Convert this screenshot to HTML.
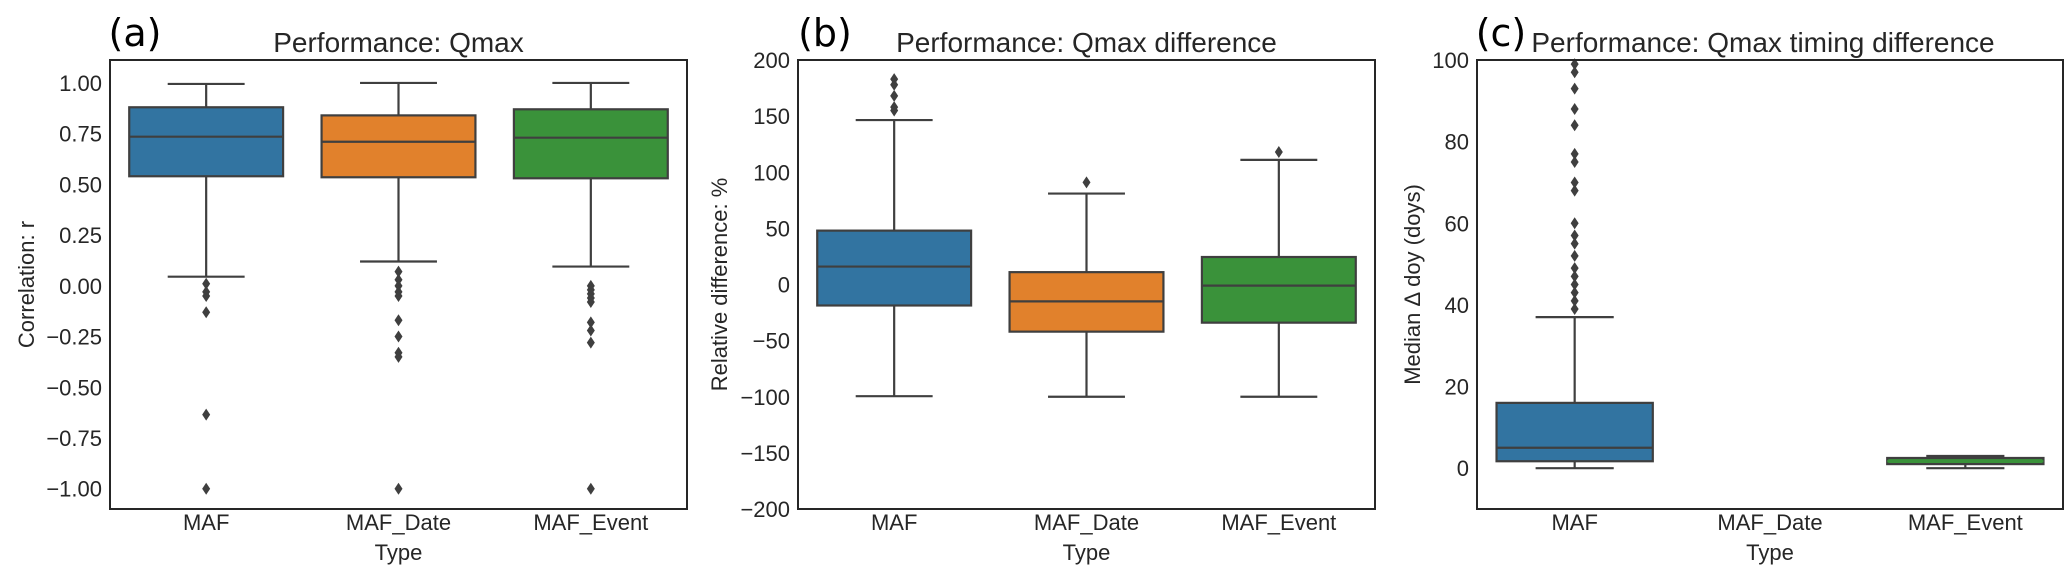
<!DOCTYPE html>
<html><head><meta charset="utf-8"><style>
html,body{margin:0;padding:0;background:#fff;}
svg{display:block;font-family:"Liberation Sans",sans-serif;}
</style></head><body>
<svg id="fig" width="2067" height="576" viewBox="0 0 2067 576" xmlns="http://www.w3.org/2000/svg"></svg>
<script>
const categories = ["MAF","MAF_Date","MAF_Event"];
const colors = ["#3274a1","#e1812c","#3a923a"];
// panel a: correlation
const aWhiskLow = [0.045, 0.12, 0.095];
const aQ1 = [0.54, 0.535, 0.53];
const aMedian = [0.735, 0.71, 0.73];
const aQ3 = [0.88, 0.84, 0.87];
const aWhiskHigh = [0.995, 1.0, 1.0];
const aOutliers = [[0.01,-0.03,-0.05,-0.13,-0.635,-1.0],[0.07,0.03,0.0,-0.03,-0.05,-0.17,-0.25,-0.33,-0.35,-1.0],[0.0,-0.02,-0.04,-0.06,-0.08,-0.18,-0.22,-0.28,-1.0]];
const aTicks = [1.0,0.75,0.5,0.25,0.0,-0.25,-0.5,-0.75,-1.0];
const aTickLabels = ["1.00","0.75","0.50","0.25","0.00","\u22120.25","\u22120.50","\u22120.75","\u22121.00"];
// panel b: relative difference
const bWhiskLow = [-99.5, -100, -100];
const bQ1 = [-18.7, -42, -34];
const bMedian = [16, -15, -1];
const bQ3 = [48, 11, 24.5];
const bWhiskHigh = [146.5, 81, 111];
const bOutliers = [[155,158,168,178,183],[91],[118]];
const bTicks = [200,150,100,50,0,-50,-100,-150,-200];
const bTickLabels = ["200","150","100","50","0","\u221250","\u2212100","\u2212150","\u2212200"];
// panel c: timing difference
const cWhiskLow = [0, null, 0];
const cQ1 = [1.7, null, 1.0];
const cMedian = [5, null, 1.7];
const cQ3 = [16, null, 2.5];
const cWhiskHigh = [37, null, 3];
const cOutliers = [[99,97,93,88,84,77,75,70,68,60,57,55,52,49,47,45,43,41,39],[],[]];
const cTicks = [100,80,60,40,20,0];
const cTickLabels = ["100","80","60","40","20","0"];

const NS="http://www.w3.org/2000/svg";
const svg=document.getElementById('fig');
function mk(tag,attrs,parent,text){const e=document.createElementNS(NS,tag);for(const k in attrs)e.setAttribute(k,attrs[k]);if(text!==undefined)e.textContent=text;(parent||svg).appendChild(e);return e;}
const LC="#3f3f3f";

function panel(opt){
  const g=mk('g',{});
  
  
  const L=opt.left,R=opt.right,T=60,B=509;
  const y=v=>B-(v-opt.ymin)/(opt.ymax-opt.ymin)*(B-T);
  const step=(R-L)/categories.length;
  const x=i=>L+step*(i+0.5);
  const bw=step*0.8;
  for(let i=0;i<categories.length;i++){
    if(opt.q1[i]===null) continue;
    const bg=mk('g',{},g);
    
    
    const cx=x(i);
    mk('line',{x1:cx,x2:cx,y1:y(opt.q3[i]),y2:y(opt.wh[i]),stroke:LC,'stroke-width':2.2},bg);
    mk('line',{x1:cx,x2:cx,y1:y(opt.q1[i]),y2:y(opt.wl[i]),stroke:LC,'stroke-width':2.2},bg);
    mk('line',{x1:cx-bw/4,x2:cx+bw/4,y1:y(opt.wh[i]),y2:y(opt.wh[i]),stroke:LC,'stroke-width':2.2},bg);
    mk('line',{x1:cx-bw/4,x2:cx+bw/4,y1:y(opt.wl[i]),y2:y(opt.wl[i]),stroke:LC,'stroke-width':2.2},bg);
    mk('rect',{x:cx-bw/2,y:y(opt.q3[i]),width:bw,height:Math.max(1,y(opt.q1[i])-y(opt.q3[i])),fill:colors[i],stroke:LC,'stroke-width':2.2},bg);
    mk('line',{x1:cx-bw/2,x2:cx+bw/2,y1:y(opt.med[i]),y2:y(opt.med[i]),stroke:(opt.id==='c'&&i===2)?colors[2]:LC,'stroke-width':2.2},bg);
    opt.out[i].forEach(v=>{
      const yy=y(v);
      const d=mk('path',{d:`M${cx},${yy-6} L${cx+4},${yy} L${cx},${yy+6} L${cx-4},${yy} Z`,fill:LC},bg);
      
      
    });
  }
  const fr=mk('rect',{x:L,y:T,width:R-L,height:B-T,fill:'none',stroke:'#262626','stroke-width':2},g);
  
  
  opt.ticks.forEach((v,k)=>{
    const t=mk('text',{x:L-8,y:y(v)+8,'text-anchor':'end','font-size':22,fill:'#262626'},g,opt.tickLabels[k]);
    
    
  });
  categories.forEach((c,i)=>{
    const t=mk('text',{x:x(i),y:530,'text-anchor':'middle','font-size':22,fill:'#262626'},g,c);
    
    
  });
  const xt=mk('text',{x:(L+R)/2,y:560,'text-anchor':'middle','font-size':22,fill:'#262626'},g,'Type');
  
  
  const yt=mk('text',{x:0,y:0,'text-anchor':'middle','font-size':22,fill:'#262626',transform:`translate(${opt.ylx},${(T+B)/2}) rotate(-90)`},g,opt.ylabel);
  
  
  const tt=mk('text',{x:opt.titleX||(L+R)/2,y:52,'text-anchor':'middle','font-size':28,fill:'#262626'},g,opt.title);
  
  
  const pl=mk('text',{x:opt.lx,y:46,'text-anchor':'middle','font-size':38,fill:'#000','font-family':'DejaVu Sans, sans-serif'},g,opt.letter);
  
  
}
panel({id:'a',left:110,right:687,ymin:-1.1,ymax:1.113,wl:aWhiskLow,q1:aQ1,med:aMedian,q3:aQ3,wh:aWhiskHigh,out:aOutliers,ticks:aTicks,tickLabels:aTickLabels,ylabel:'Correlation: r',ylx:34,title:'Performance: Qmax',letter:'(a)',lx:135});
panel({id:'b',left:798,right:1375,ymin:-200,ymax:200,wl:bWhiskLow,q1:bQ1,med:bMedian,q3:bQ3,wh:bWhiskHigh,out:bOutliers,ticks:bTicks,tickLabels:bTickLabels,ylabel:'Relative difference: %',ylx:727,title:'Performance: Qmax difference',letter:'(b)',lx:825});
panel({id:'c',left:1477,right:2063,ymin:-10,ymax:100,wl:cWhiskLow,q1:cQ1,med:cMedian,q3:cQ3,wh:cWhiskHigh,out:cOutliers,ticks:cTicks,tickLabels:cTickLabels,ylabel:'Median \u0394 doy (doys)',ylx:1420,title:'Performance: Qmax timing difference',titleX:1763,letter:'(c)',lx:1501});
</script>
</body></html>
